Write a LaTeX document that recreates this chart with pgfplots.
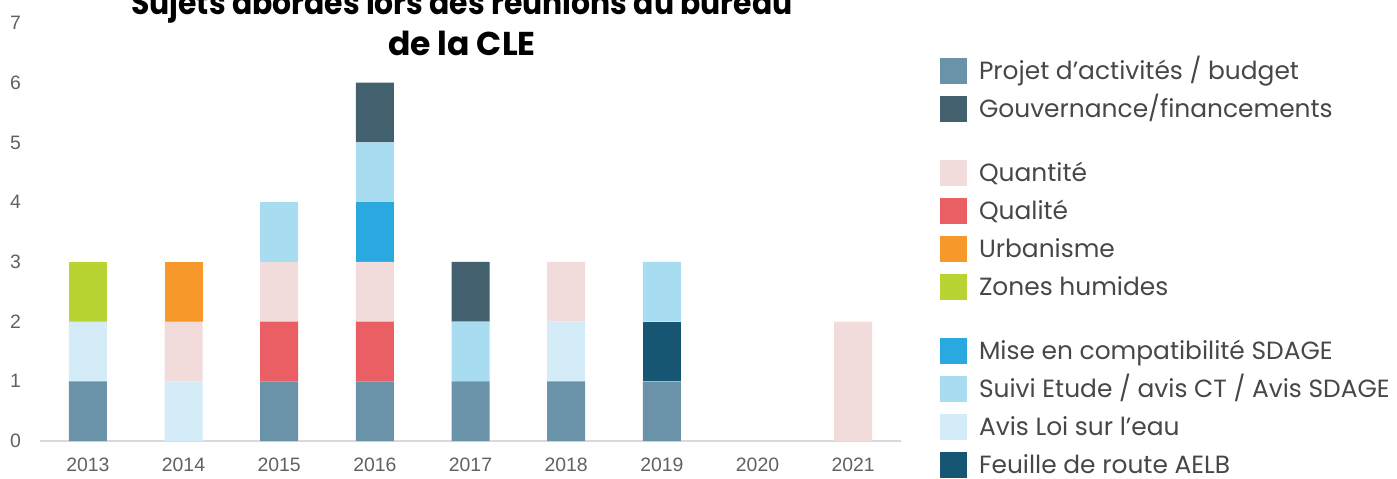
\documentclass[border=0pt]{standalone}
\usepackage{pgfplots}
\pgfplotsset{compat=1.18}
\usepackage{pgfplotstable}
\usepackage{fontspec}
\setmainfont{Poppins}
\newfontfamily\tickfont{Liberation Sans}
\definecolor{cProjet}{HTML}{6A92A8}
\definecolor{cGouv}{HTML}{43606F}
\definecolor{cQuant}{HTML}{F2DCDB}
\definecolor{cQual}{HTML}{E95F64}
\definecolor{cUrb}{HTML}{F7992A}
\definecolor{cZones}{HTML}{B8D433}
\definecolor{cMise}{HTML}{2AA9E0}
\definecolor{cSuivi}{HTML}{A8DCF0}
\definecolor{cAvis}{HTML}{D4ECF8}
\definecolor{cFeuille}{HTML}{165673}
\pgfplotstableread{
x Projet Avis Qual Quant Feuille Mise Suivi Gouv Urb Zones
0 1 1 0 0 0 0 0 0 0 1
1 0 1 0 1 0 0 0 0 1 0
2 1 0 1 1 0 0 1 0 0 0
3 1 0 1 1 0 1 1 1 0 0
4 1 0 0 0 0 0 1 1 0 0
5 1 1 0 1 0 0 0 0 0 0
6 1 0 0 0 1 0 1 0 0 0
7 0 0 0 0 0 0 0 0 0 0
8 0 0 0 2 0 0 0 0 0 0
}\datatable
\begin{document}
\begin{tikzpicture}
\useasboundingbox (0,0) rectangle (698.5pt,239pt);
\begin{axis}[
  at={(20pt,18.5pt)}, anchor=south west,
  scale only axis, width=430.5pt, height=209pt,
  xmin=-0.5, xmax=8.5, ymin=0, ymax=7,
  ybar stacked, bar width=19pt,
  xtick={0,...,8}, xticklabels={2013,2014,2015,2016,2017,2018,2019,2020,2021},
  ytick={0,...,7},
  axis x line*=bottom, axis y line*=left,
  x axis line style={draw=black!15, line width=0.8pt, -},
  y axis line style={draw=none},
  major tick length=0pt,
  tick label style={font=\tickfont\fontsize{9.7}{11}\selectfont, text=black!62},
  /pgf/number format/assume math mode=true,
  xticklabel style={yshift=-5pt},
  yticklabel style={xshift=-6pt},
  title={\scalebox{0.905}[1]{Sujets abordés lors des réunions du bureau}\\de la CLE},
  title style={at={(0.49,1)}, anchor=south, align=center, yshift=-26pt,
    font=\bfseries\fontsize{16.5}{20.5}\selectfont},
  sq/.style={legend image code/.code={\fill[##1, draw=none] (0pt,-5pt) rectangle (13.5pt,8pt);}},
  legend cell align=left,
  legend style={at={(1.0453,0.924)}, anchor=north west, draw=none, fill=none,
    inner sep=0pt, outer sep=0pt, row sep=0pt, column sep=6pt,
    nodes={inner sep=0pt, outer sep=0pt, text=black!72, text height=12.5pt, text depth=6.5pt,
      font=\fontsize{12.45}{15}\selectfont}},
]
\addplot[forget plot, fill=cProjet, draw=none] table[x=x, y=Projet] {\datatable};
\addplot[forget plot, fill=cAvis, draw=none] table[x=x, y=Avis] {\datatable};
\addplot[forget plot, fill=cQual, draw=none] table[x=x, y=Qual] {\datatable};
\addplot[forget plot, fill=cQuant, draw=none] table[x=x, y=Quant] {\datatable};
\addplot[forget plot, fill=cFeuille, draw=none] table[x=x, y=Feuille] {\datatable};
\addplot[forget plot, fill=cMise, draw=none] table[x=x, y=Mise] {\datatable};
\addplot[forget plot, fill=cSuivi, draw=none] table[x=x, y=Suivi] {\datatable};
\addplot[forget plot, fill=cGouv, draw=none] table[x=x, y=Gouv] {\datatable};
\addplot[forget plot, fill=cUrb, draw=none] table[x=x, y=Urb] {\datatable};
\addplot[forget plot, fill=cZones, draw=none] table[x=x, y=Zones] {\datatable};
\addlegendimage{sq, fill=cProjet}\addlegendentry{Projet d'activités / budget}
\addlegendimage{sq, fill=cGouv}\addlegendentry{Gouvernance/financements}
\addlegendimage{empty legend}\addlegendentry[text height=13pt, text depth=0pt]{}
\addlegendimage{sq, fill=cQuant}\addlegendentry{Quantité}
\addlegendimage{sq, fill=cQual}\addlegendentry{Qualité}
\addlegendimage{sq, fill=cUrb}\addlegendentry{Urbanisme}
\addlegendimage{sq, fill=cZones}\addlegendentry{Zones humides}
\addlegendimage{empty legend}\addlegendentry[text height=13pt, text depth=0pt]{}
\addlegendimage{sq, fill=cMise}\addlegendentry{Mise en compatibilité SDAGE}
\addlegendimage{sq, fill=cSuivi}\addlegendentry{Suivi Etude / avis CT / Avis SDAGE}
\addlegendimage{sq, fill=cAvis}\addlegendentry{Avis Loi sur l'eau}
\addlegendimage{sq, fill=cFeuille}\addlegendentry{Feuille de route AELB}
\end{axis}
\end{tikzpicture}
\end{document}
